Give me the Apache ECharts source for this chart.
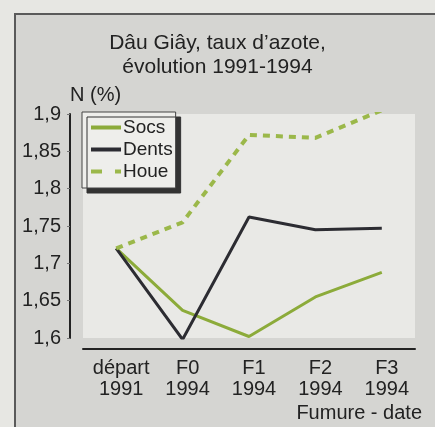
<!DOCTYPE html>
<html lang="fr">

<head>
    <meta charset="UTF-8">
    <title>Dâu Giây azote</title>
    <script src="https://cdn.jsdelivr.net/npm/echarts@6/dist/echarts.min.js"></script>
    <style>
        body { margin: 0; background: #e7e7e3; }
        /* cadre gris autour du graphique */
        #frame { position: absolute; left: 14px; top: 13px; width: 500px; height: 500px;
                 border: 2px solid #5a5a5a; background: #d5d5d2; }
        #main { position: absolute; left: 0; top: 0; width: 435px; height: 427px; }
    </style>
</head>

<body>
    <div id="frame"></div>
    <div id="main"></div>
    <script>
        // catégories (fumure - date)
        var categories = ['départ\n1991', 'F0\n1994', 'F1\n1994', 'F2\n1994', 'F3\n1994']
        // taux d'azote N (%)
        var socs = [1.72, 1.637, 1.602, 1.655, 1.688]
        var dents = [1.72, 1.598, 1.762, 1.745, 1.747]
        var houe = [1.72, 1.755, 1.872, 1.868, 1.905]

        var myChart = echarts.init(document.getElementById('main'), null, { renderer: 'canvas' })
        var font = 'Liberation Sans, Arial, sans-serif'

        var option = {
            backgroundColor: 'transparent',
            textStyle: { fontFamily: font },
            title: {
                text: 'Dâu Giây, taux d\u2019azote,\névolution 1991-1994',
                left: 'center',
                top: 26,
                textStyle: { fontSize: 21, fontWeight: 'normal', color: '#222', lineHeight: 24, fontFamily: font }
            },
            // légende encadrée avec ombre portée
            legend: {
                orient: 'vertical',
                left: 82,
                top: 112,
                padding: [6, 3, 7, 9],
                itemGap: 3,
                itemWidth: 30,
                itemHeight: 4,
                backgroundColor: '#eeeeeb',
                borderColor: '#444',
                borderWidth: 1,
                borderRadius: 0,
                shadowColor: '#333',
                shadowBlur: 0,
                shadowOffsetX: 5,
                shadowOffsetY: 5,
                textStyle: { fontSize: 19, color: '#222', padding: [0, 0, 0, -3] },
                data: [
                    { name: 'Socs', icon: 'rect' },
                    { name: 'Dents', icon: 'rect' },
                    { name: 'Houe', icon: 'path://M0,0h11v4h-11zM24,0h6v4h-6z' }
                ]
            },
            grid: {
                left: 83,
                right: 20,
                top: 114,
                bottom: 89,
                show: true,
                backgroundColor: '#e9e9e6',
                borderWidth: 0
            },
            xAxis: {
                type: 'category',
                data: categories,
                boundaryGap: true,
                offset: 11,
                axisLine: { lineStyle: { color: '#222', width: 2 } },
                axisTick: { alignWithLabel: true, inside: true, length: 4, lineStyle: { color: '#555' } },
                axisLabel: {
                    interval: 0, color: '#222', fontSize: 20, lineHeight: 21, margin: 9,
                    padding: [0, 0, 0, 10]
                }
            },
            yAxis: {
                type: 'value',
                min: 1.6,
                max: 1.9,
                interval: 0.05,
                offset: 13,
                name: 'N (%)',
                nameLocation: 'end',
                nameGap: 9,
                nameTextStyle: { fontSize: 20, color: '#222', align: 'left' },
                axisLine: { show: true, lineStyle: { color: '#222', width: 2 } },
                axisTick: { show: true, length: 3, lineStyle: { color: '#777' } },
                splitLine: { show: false },
                axisLabel: {
                    color: '#222',
                    fontSize: 20,
                    margin: 9,
                    formatter: function (v) {
                        return String(+v.toFixed(2)).replace('.', ',')
                    }
                }
            },
            graphic: [{
                type: 'text',
                right: 13,
                top: 403,
                style: { text: 'Fumure - date', fontSize: 20, fill: '#222', fontFamily: font }
            }],
            series: [
                {
                    name: 'Socs',
                    type: 'line',
                    data: socs,
                    symbol: 'none',
                    color: '#8cab3a',
                    lineStyle: { width: 3, color: '#8cab3a' }
                },
                {
                    name: 'Dents',
                    type: 'line',
                    data: dents,
                    symbol: 'none',
                    color: '#2c2c32',
                    lineStyle: { width: 3, color: '#2c2c32' }
                },
                {
                    name: 'Houe',
                    type: 'line',
                    data: houe,
                    symbol: 'none',
                    color: '#9bb84a',
                    lineStyle: { width: 4, color: '#9bb84a', type: [7, 6] }
                }
            ]
        }
        myChart.setOption(option)
    </script>
</body>

</html>
